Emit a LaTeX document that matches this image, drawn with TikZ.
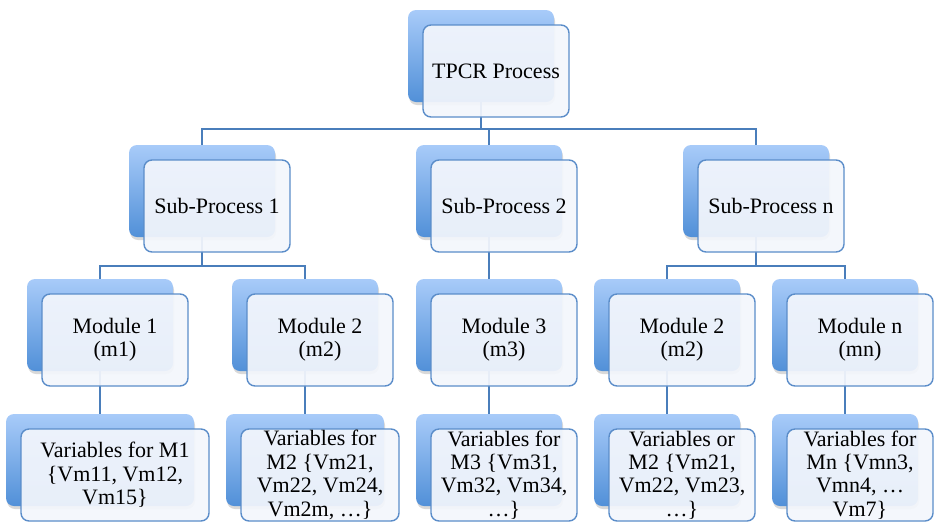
\documentclass[tikz,border=0pt]{standalone}
\usepackage{fontspec}
\setmainfont{Liberation Serif}
\usetikzlibrary{shadows}
\definecolor{connc}{HTML}{4A7EBB}
\definecolor{bTop}{HTML}{A8CBF9}
\definecolor{bBot}{HTML}{5190D8}
\definecolor{fBorder}{HTML}{5B8DC9}
\definecolor{fFill}{HTML}{F3F6FC}
\newcommand\backunit[4]{%
  \node[backbox, minimum width=#4pt] (#1b) at (#2+#4/2, #3+46) {};}
\newcommand\frontunit[5]{%
  \node[frontbox, minimum width=#4pt] (#1) at (#2+#4/2+15, #3+61) {#5};}
\begin{document}
\begin{tikzpicture}[x=1pt,y=-1pt,
  backbox/.style={rectangle, rounded corners=8pt, minimum height=92pt,
    top color=bTop, bottom color=bBot, draw=none,
    drop shadow={shadow xshift=1pt, shadow yshift=-3pt, opacity=0.3}},
  frontbox/.style={rectangle, rounded corners=8pt, minimum height=92pt,
    draw=fBorder, line width=1.4pt, fill=fFill, fill opacity=0.93,
    text opacity=1, align=center, inner sep=1pt,
    font=\fontsize{22}{23.4}\selectfont},
  link/.style={draw=connc, line width=1.5pt}]
\useasboundingbox (0,0) rectangle (936,523);
% back boxes
\backunit{t}{408}{10}{146}
\backunit{s1}{129}{145}{146}
\backunit{s2}{416}{145}{146}
\backunit{s3}{683}{145}{146}
\backunit{m1}{27}{279}{146}
\backunit{m2}{232}{279}{146}
\backunit{m3}{416}{279}{146}
\backunit{m4}{594}{279}{146}
\backunit{m5}{772}{279}{146}
\backunit{v1}{6}{414}{188}
\backunit{v2}{226}{414}{158}
\backunit{v3}{416}{414}{146}
\backunit{v4}{594}{414}{146}
\backunit{v5}{772}{414}{146}
% connectors
\coordinate (j0) at (481,129);
\coordinate (j1) at (202,266);
\coordinate (j3) at (756,266);
\draw[link] (tb.south) -- (j0);
\draw[link] (j0) -| (s1b.north);
\draw[link] (j0) -| (s2b.north);
\draw[link] (j0) -| (s3b.north);
\draw[link] (s1b.south) -- (j1);
\draw[link] (j1) -| (m1b.north);
\draw[link] (j1) -| (m2b.north);
\draw[link] (s2b.south) -- (m3b.north);
\draw[link] (s3b.south) -- (j3);
\draw[link] (j3) -| (m4b.north);
\draw[link] (j3) -| (m5b.north);
\draw[link] (m1b.south) -- (v1b.north);
\draw[link] (m2b.south) -- (v2b.north);
\draw[link] (m3b.south) -- (v3b.north);
\draw[link] (m4b.south) -- (v4b.north);
\draw[link] (m5b.south) -- (v5b.north);
% front boxes
\frontunit{t}{408}{10}{146}{TPCR Process}
\frontunit{s1}{129}{145}{146}{Sub-Process 1}
\frontunit{s2}{416}{145}{146}{Sub-Process 2}
\frontunit{s3}{683}{145}{146}{Sub-Process n}
\frontunit{m1}{27}{279}{146}{Module 1\\(m1)}
\frontunit{m2}{232}{279}{146}{Module 2\\(m2)}
\frontunit{m3}{416}{279}{146}{Module 3\\(m3)}
\frontunit{m4}{594}{279}{146}{Module 2\\(m2)}
\frontunit{m5}{772}{279}{146}{Module n\\(mn)}
\frontunit{v1}{6}{414}{188}{Variables for M1\\\{Vm11, Vm12,\\Vm15\}}
\frontunit{v2}{226}{414}{158}{Variables for\\M2 \{Vm21,\\Vm22, Vm24,\\Vm2m, …\}}
\frontunit{v3}{416}{414}{146}{Variables for\\M3 \{Vm31,\\Vm32, Vm34,\\…\}}
\frontunit{v4}{594}{414}{146}{Variables or\\M2 \{Vm21,\\Vm22, Vm23,\\…\}}
\frontunit{v5}{772}{414}{146}{Variables for\\Mn \{Vmn3,\\Vmn4, …\\Vm7\}}
\end{tikzpicture}
\end{document}
